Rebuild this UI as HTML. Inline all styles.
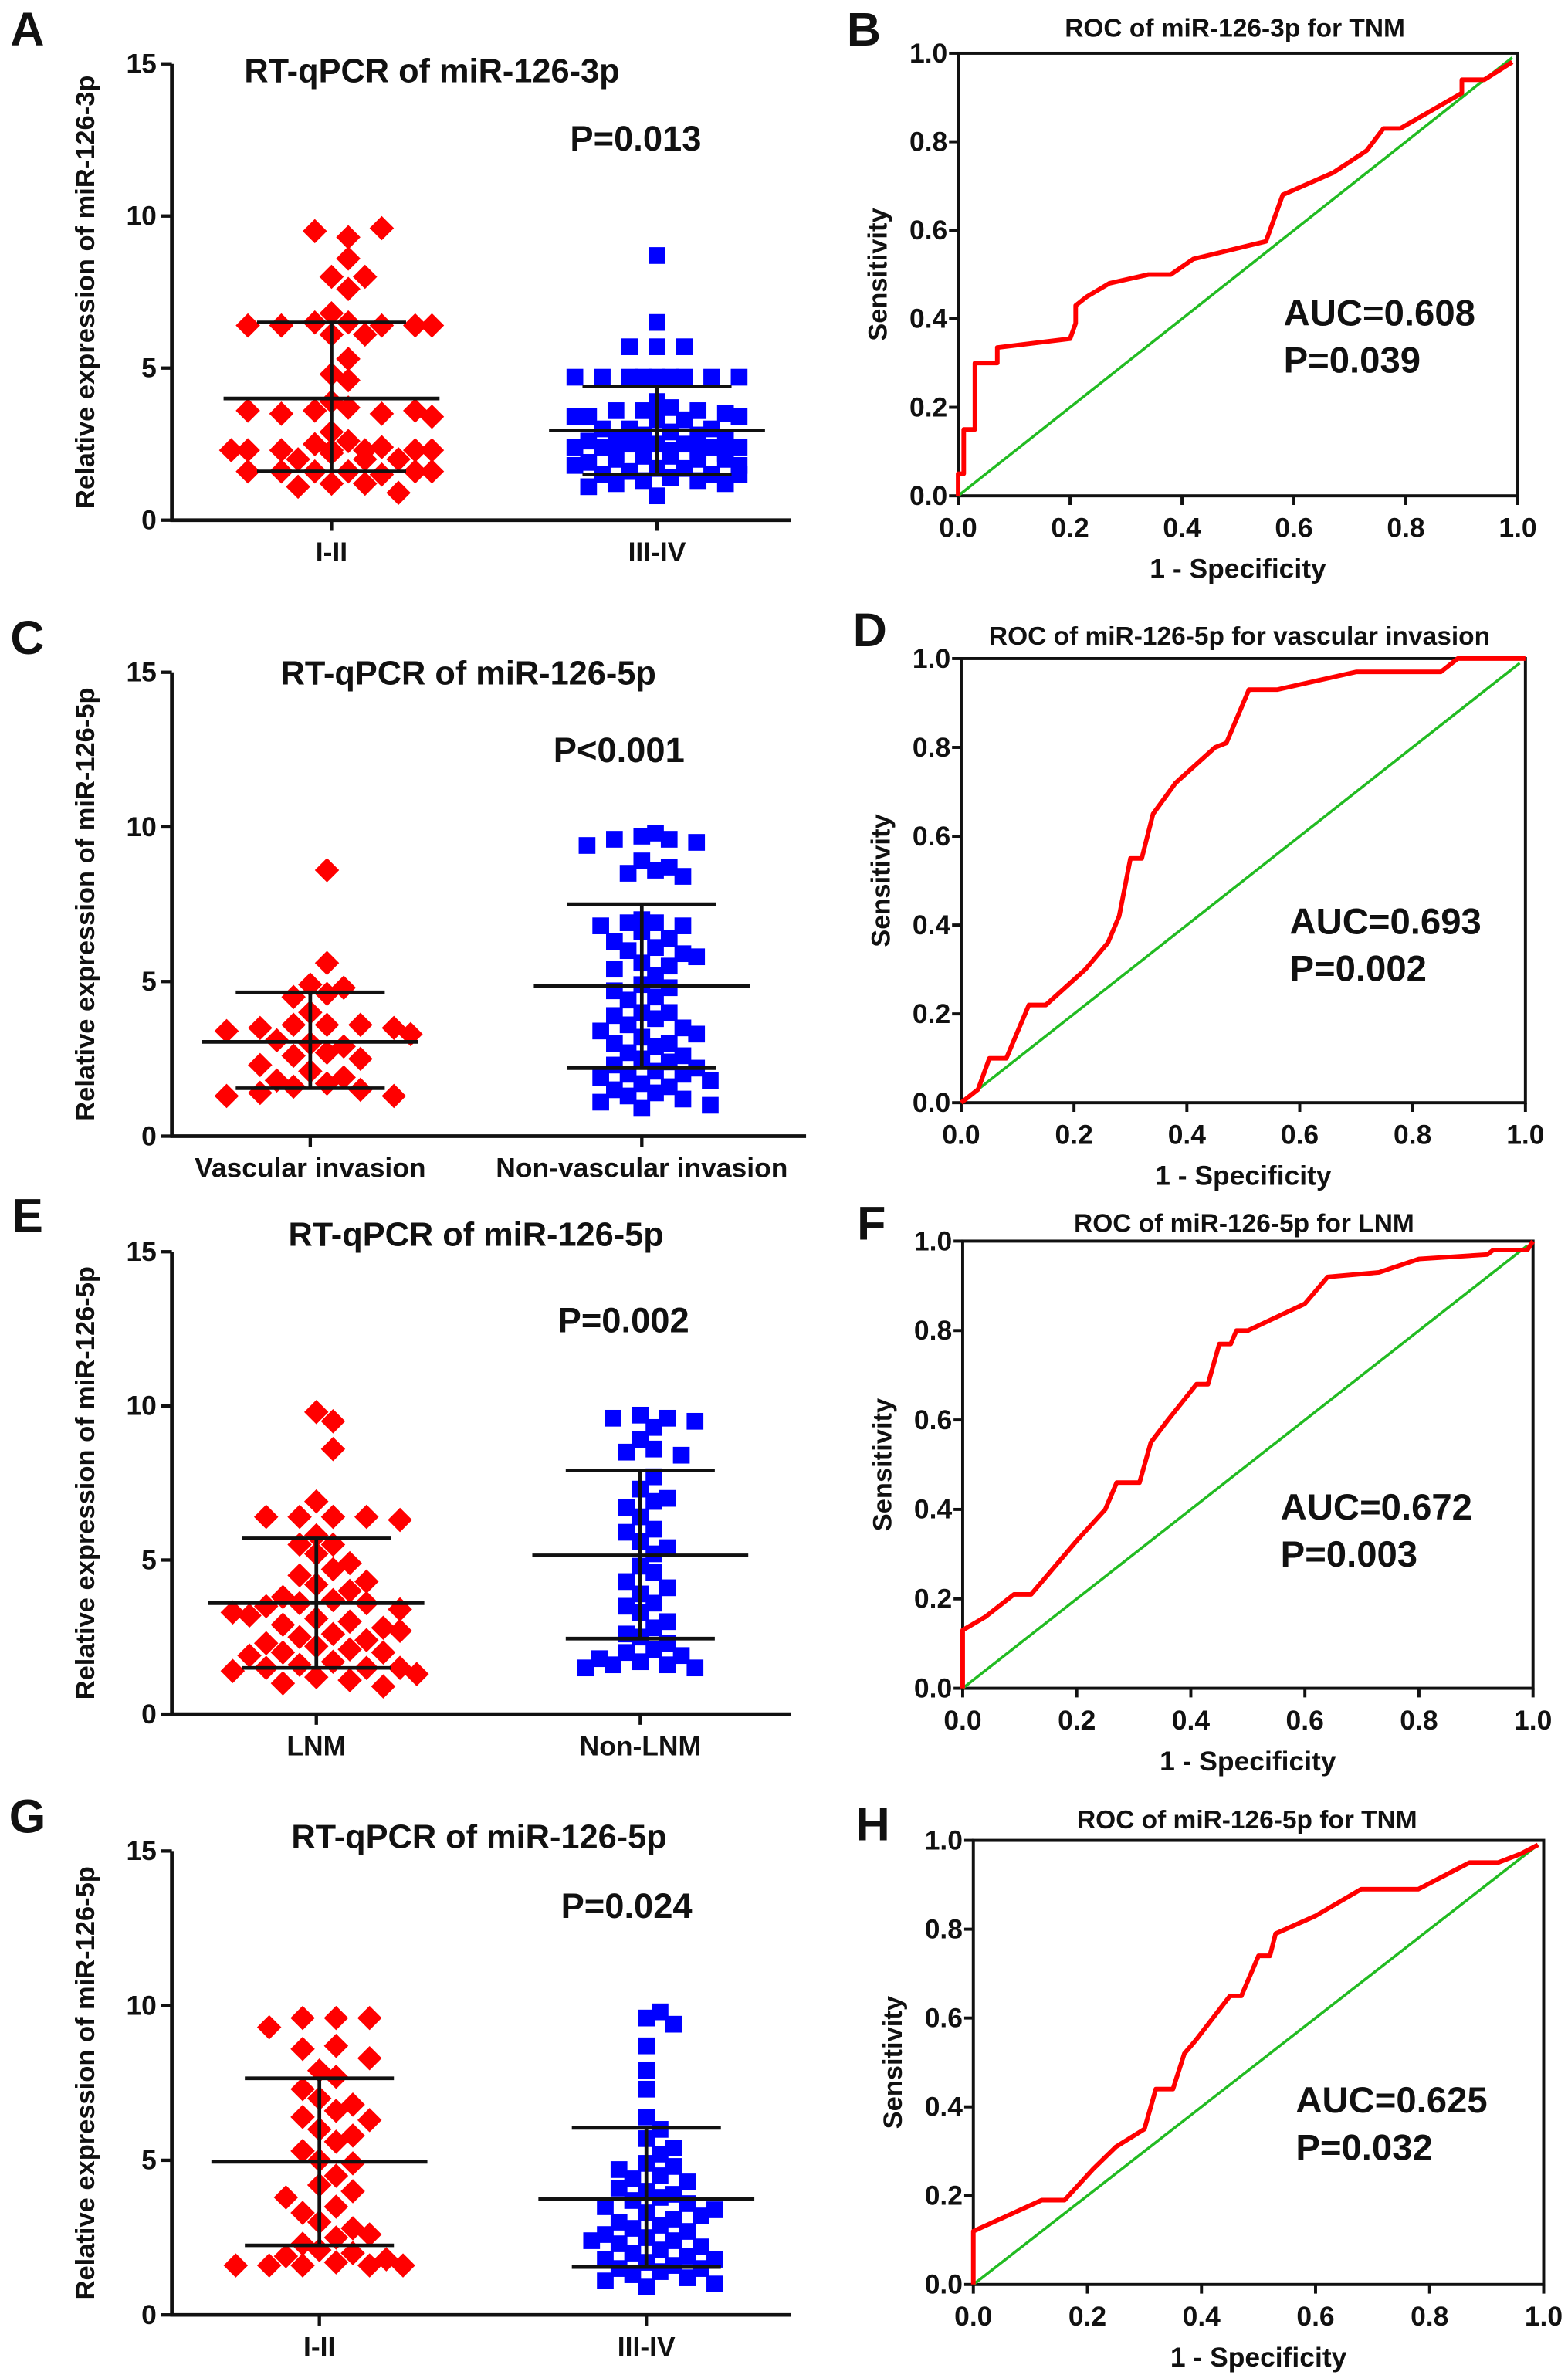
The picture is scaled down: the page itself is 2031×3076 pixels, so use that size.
<!DOCTYPE html>
<html><head><meta charset="utf-8"><style>
html,body{margin:0;padding:0;background:#fff;}
svg{display:block;font-family:"Liberation Sans",Arial,sans-serif;font-weight:bold;}
</style></head><body>
<svg id="fig" width="2031" height="3076" viewBox="0 0 1031 1561.5" preserveAspectRatio="none" xmlns="http://www.w3.org/2000/svg"></svg>
<script>
// ---- Scatter data ----
const aGroups = ["I-II","III-IV"];
const aRed = [9.3,9.5,9.6,8.6,8.0,8.0,7.6,6.8,6.5,6.5,6.4,6.4,6.4,6.4,6.4,6.1,6.1,5.3,4.8,4.6,3.9,3.7,3.6,3.5,3.5,3.6,3.6,3.4,2.9,2.6,2.5,2.4,2.3,2.3,2.3,2.3,2.3,2.3,2.3,2.2,2.0,2.0,2.0,1.6,1.6,1.5,1.6,1.6,1.6,1.6,1.2,1.2,1.1,0.9];
const aBlue = [8.7,6.5,5.7,5.7,5.7,4.7,4.7,4.7,4.7,4.7,4.7,4.7,4.7,4.7,3.9,3.7,3.6,3.6,3.6,3.5,3.4,3.4,3.4,3.4,3.3,3.3,3.0,3.0,3.0,2.9,2.8,2.8,2.7,2.7,2.6,2.5,2.5,2.5,2.4,2.4,2.4,2.4,2.3,2.3,2.3,2.2,2.2,2.1,2.1,2.0,2.0,2.0,1.9,1.8,1.8,1.7,1.7,1.6,1.5,1.5,1.5,1.4,1.3,1.3,1.2,1.2,1.1,0.8];
const aStats = [[4.0,6.5,1.6],[2.95,4.4,1.5]];

const cGroups = ["Vascular invasion","Non-vascular invasion"];
const cRed = [8.6,5.6,4.9,4.8,4.6,4.5,3.6,3.6,3.6,3.5,3.5,3.4,3.3,3.0,2.9,2.7,2.6,2.5,2.1,1.9,1.8,1.7,1.6,1.5,1.4,1.3,1.3,2.3,3.1,4.0];
const cBlue = [9.8,9.7,9.6,9.6,9.5,9.4,8.9,8.7,8.6,8.5,8.4,7.0,6.9,6.9,6.8,6.8,6.6,6.4,6.1,6.0,5.9,5.6,5.5,5.4,5.2,4.9,4.8,4.7,4.5,4.4,4.0,4.0,3.9,3.8,3.6,3.5,3.4,3.2,3.0,3.0,2.9,2.7,2.6,2.5,2.4,2.3,2.1,2.0,2.0,1.9,1.8,1.7,1.6,1.5,1.4,1.3,1.2,1.1,1.0,0.9,5.8,6.3,3.3,2.2];
const cStats = [[3.05,4.65,1.55],[4.85,7.5,2.2]];

const eGroups = ["LNM","Non-LNM"];
const eRed = [9.8,9.5,8.6,6.9,6.4,6.4,6.4,6.4,6.3,5.8,5.5,5.5,5.2,4.9,4.7,4.5,4.2,4.0,3.8,3.7,3.6,3.6,3.5,3.4,3.3,3.1,3.0,2.9,2.8,2.6,2.5,2.4,2.3,2.2,2.1,2.0,2.0,1.9,1.7,1.6,1.5,1.5,1.5,1.4,1.3,1.2,1.1,1.0,0.9,2.7,4.3,3.2];
const eBlue = [9.7,9.6,9.6,9.5,9.3,8.9,8.6,8.5,8.4,7.3,7.0,6.9,6.7,6.4,6.0,5.9,5.6,5.4,5.2,4.8,4.6,4.3,3.9,3.6,3.5,3.3,3.0,2.8,2.5,2.3,2.1,2.0,1.9,1.8,1.7,1.6,1.6,1.5,1.5,4.1,7.7,2.6];
const eStats = [[3.6,5.7,1.5],[5.15,7.9,2.45]];

const gGroups = ["I-II","III-IV"];
const gRed = [9.6,9.6,9.6,9.3,8.7,8.6,8.3,7.9,7.7,7.0,6.8,6.6,6.4,6.3,6.0,5.6,5.3,5.0,4.9,4.5,4.2,4.0,3.8,3.5,3.3,3.0,2.8,2.5,2.3,2.1,2.0,1.9,1.8,1.7,1.6,1.6,1.6,1.6,1.6,2.6,7.3,5.8];
const gBlue = [9.8,9.6,9.4,8.7,7.9,7.3,6.4,6.0,5.7,5.4,5.2,4.9,4.8,4.7,4.5,4.4,4.3,4.0,3.8,3.7,3.6,3.5,3.4,3.3,3.1,3.0,2.9,2.8,2.7,2.6,2.5,2.4,2.3,2.2,2.1,2.0,1.9,1.8,1.7,1.6,1.5,1.5,1.4,1.3,1.2,1.1,1.0,0.9,3.9,2.4,1.8,3.2,4.1];
const gStats = [[4.95,7.65,2.25],[3.75,6.05,1.55]];

const scatterTicks = [0,5,10,15];

// ---- ROC data ----
const bFpr = [0,0,0.01,0.01,0.03,0.03,0.07,0.07,0.2,0.21,0.21,0.23,0.27,0.34,0.38,0.42,0.55,0.58,0.67,0.73,0.76,0.79,0.9,0.9,0.94,0.99];
const bTpr = [0,0.05,0.05,0.15,0.15,0.3,0.3,0.335,0.355,0.39,0.43,0.45,0.48,0.5,0.5,0.535,0.575,0.68,0.73,0.78,0.83,0.83,0.91,0.94,0.94,0.98];
const dFpr = [0,0.03,0.05,0.08,0.12,0.15,0.22,0.26,0.28,0.3,0.32,0.34,0.38,0.45,0.47,0.5,0.51,0.56,0.7,0.85,0.88,1];
const dTpr = [0,0.03,0.1,0.1,0.22,0.22,0.3,0.36,0.42,0.55,0.55,0.65,0.72,0.8,0.81,0.9,0.93,0.93,0.97,0.97,1,1];
const fFpr = [0,0,0.04,0.09,0.12,0.2,0.25,0.27,0.31,0.33,0.36,0.41,0.43,0.45,0.47,0.48,0.5,0.6,0.64,0.73,0.8,0.92,0.93,0.99,1];
const fTpr = [0,0.13,0.16,0.21,0.21,0.33,0.4,0.46,0.46,0.55,0.6,0.68,0.68,0.77,0.77,0.8,0.8,0.86,0.92,0.93,0.96,0.97,0.98,0.98,1];
const hFpr = [0,0,0.12,0.16,0.21,0.25,0.3,0.32,0.35,0.37,0.39,0.45,0.47,0.5,0.52,0.53,0.6,0.68,0.78,0.84,0.87,0.92,0.96,0.99];
const hTpr = [0,0.12,0.19,0.19,0.26,0.31,0.35,0.44,0.44,0.52,0.55,0.65,0.65,0.74,0.74,0.79,0.83,0.89,0.89,0.93,0.95,0.95,0.97,0.99];
const rocTicks = [0,0.2,0.4,0.6,0.8,1.0];

const NS = "http://www.w3.org/2000/svg";
const svg = document.getElementById('fig');
function mk(tag, attrs, parent, text){
  const e = document.createElementNS(NS, tag);
  for (const k in attrs) e.setAttribute(k, attrs[k]);
  if (text !== undefined) e.textContent = text;
  (parent || svg).appendChild(e);
  return e;
}
function txt(x,y,s,size,anchor,parent,name,rot){
  const t = mk('text',{x:x,y:y,'font-size':size,'text-anchor':anchor||'middle',fill:'#111'},parent,s);
  
  
  if (rot) t.setAttribute('transform','rotate(-90 '+x+' '+y+')');
  return t;
}

// slot patterns (multiples of spacing d)
const evenSlots = [0,1,-1,2,-2,3,-3,0.5,-0.5,1.5,-1.5,2.5,-2.5];
const oddSlots = [0.5,-0.5,1.5,-1.5,2.5,-2.5,3,-3,0,1,-1,2,-2];

function scatter(p){
  const g = mk('g',{});
  
  
  const ys = v => p.y0 - (v/15)*(p.y0-p.y15);
  txt(18, p.letterY, p.letter, 31, 'middle', g, 'panel-label');
  txt(p.titleX, p.titleY, p.title, 22, 'middle', g, 'chart-title');
  txt(p.pX, p.pY, p.pText, 23, 'middle', g, 'p-value');
  const ya = mk('line',{x1:p.ax,y1:p.y15,x2:p.ax,y2:p.y0+1,stroke:'#111','stroke-width':2.4},g);
  
  
  const xa = mk('line',{x1:p.ax-1,y1:p.y0,x2:p.axEnd,y2:p.y0,stroke:'#111','stroke-width':2.4},g);
  
  
  scatterTicks.forEach(t=>{
    mk('line',{x1:p.ax-7,y1:ys(t),x2:p.ax,y2:ys(t),stroke:'#111','stroke-width':2.2},g);
    txt(p.ax-10, ys(t)+6, String(t), 18, 'end', g, 'y-tick-label');
  });
  txt(62, (p.y0+p.y15)/2, p.ylabel, 17.5, 'middle', g, 'y-axis-title', true);
  p.groups.forEach((name,i)=>{
    const cx = p.cats[i];
    mk('line',{x1:cx,y1:p.y0,x2:cx,y2:p.y0+7,stroke:'#111','stroke-width':2.2},g);
    txt(cx, p.y0+27, name, 18, 'middle', g, 'x-category-label');
  });
  [p.red, p.blue].forEach((vals,gi)=>{
    const cx = p.cats[gi];
    const bins = {};
    const d = gi===0 ? 22 : 18;
    const bs = gi===0 ? 0.5 : 0.4;
    vals.forEach(v=>{
      const b = Math.round(v/bs);
      const k = bins[b] = (bins[b]||0)+1;
      const slots = (b%2===0) ? evenSlots : oddSlots;
      const start = (b*3) % 3;
      const s = slots[(k-1+start) % slots.length];
      const x = cx + s*d, y = ys(v);
      let m;
      if (gi===0){
        m = mk('polygon',{points:`${x},${y-8} ${x+8},${y} ${x},${y+8} ${x-8},${y}`,fill:'#ff0000'},g);
        
      } else {
        m = mk('rect',{x:x-5.5,y:y-5.5,width:11,height:11,fill:'#0000ff'},g);
        
      }
      
    });
  });
  p.stats.forEach((s,i)=>{
    const cx = p.cats[i];
    const e1 = mk('line',{x1:cx-71,y1:ys(s[0]),x2:cx+71,y2:ys(s[0]),stroke:'#111','stroke-width':2.4},g);
    
    
    mk('line',{x1:cx,y1:ys(s[1]),x2:cx,y2:ys(s[2]),stroke:'#111','stroke-width':2.4},g);
    mk('line',{x1:cx-49,y1:ys(s[1]),x2:cx+49,y2:ys(s[1]),stroke:'#111','stroke-width':2.4},g);
    mk('line',{x1:cx-49,y1:ys(s[2]),x2:cx+49,y2:ys(s[2]),stroke:'#111','stroke-width':2.4},g);
  });
}

function roc(p){
  const g = mk('g',{});
  
  
  const xs = v => p.x0 + v*(p.x1-p.x0);
  const ys = v => p.y0 - v*(p.y0-p.y1);
  txt(p.letterX, p.letterY, p.letter, 31, 'middle', g, 'panel-label');
  txt(p.titleX, p.titleY, p.title, 17, 'middle', g, 'chart-title');
  const fr = mk('rect',{x:p.x0,y:p.y1,width:p.x1-p.x0,height:p.y0-p.y1,fill:'none',stroke:'#111','stroke-width':2},g);
  
  
  rocTicks.forEach(t=>{
    mk('line',{x1:xs(t),y1:p.y0,x2:xs(t),y2:p.y0+6,stroke:'#111','stroke-width':2},g);
    txt(xs(t), p.y0+27, t.toFixed(1), 18, 'middle', g, 'x-tick-label');
    mk('line',{x1:p.x0-6,y1:ys(t),x2:p.x0,y2:ys(t),stroke:'#111','stroke-width':2},g);
    txt(p.x0-7, ys(t)+6, t.toFixed(1), 18, 'end', g, 'y-tick-label');
  });
  txt((p.x0+p.x1)/2, p.y0+54, '1 - Specificity', 18, 'middle', g, 'x-axis-title');
  txt(p.x0-47, (p.y0+p.y1)/2, 'Sensitivity', 17.5, 'middle', g, 'y-axis-title', true);
  const dg = mk('line',{x1:xs(0),y1:ys(0),x2:xs(0.99),y2:ys(0.99),stroke:'#22bb22','stroke-width':1.8},g);
  
  
  const pts = p.fpr.map((f,i)=>xs(f)+','+ys(p.tpr[i])).join(' ');
  const pl = mk('polyline',{points:pts,fill:'none',stroke:'#ff0000','stroke-width':3,'stroke-linejoin':'round'},g);
  
  
  txt(p.aucX, p.aucY, p.auc, 24, 'start', g, 'auc-label');
  txt(p.aucX, p.aucY+31, p.p, 24, 'start', g, 'p-value');
}

scatter({name:'panel-a',letter:'A',letterY:30,title:'RT-qPCR of miR-126-3p',titleX:284,titleY:54,pText:'P=0.013',pX:418,pY:99,
  ax:113,axEnd:520,y0:342,y15:42,cats:[218,432],groups:aGroups,red:aRed,blue:aBlue,stats:aStats,ylabel:'Relative expression of miR-126-3p'});
scatter({name:'panel-c',letter:'C',letterY:430,title:'RT-qPCR of miR-126-5p',titleX:308,titleY:450,pText:'P<0.001',pX:407,pY:501,
  ax:113,axEnd:530,y0:747,y15:442,cats:[204,422],groups:cGroups,red:cRed,blue:cBlue,stats:cStats,ylabel:'Relative expression of miR-126-5p'});
scatter({name:'panel-e',letter:'E',letterY:810,title:'RT-qPCR of miR-126-5p',titleX:313,titleY:819,pText:'P=0.002',pX:410,pY:876,
  ax:113,axEnd:520,y0:1127,y15:823,cats:[208,421],groups:eGroups,red:eRed,blue:eBlue,stats:eStats,ylabel:'Relative expression of miR-126-5p'});
scatter({name:'panel-g',letter:'G',letterY:1205,title:'RT-qPCR of miR-126-5p',titleX:315,titleY:1215,pText:'P=0.024',pX:412,pY:1261,
  ax:113,axEnd:520,y0:1522,y15:1217,cats:[210,425],groups:gGroups,red:gRed,blue:gBlue,stats:gStats,ylabel:'Relative expression of miR-126-5p'});

roc({name:'panel-b',letter:'B',letterX:568,letterY:30,title:'ROC of miR-126-3p for TNM',titleX:812,titleY:24,
  x0:630,x1:998,y0:326,y1:35,fpr:bFpr,tpr:bTpr,auc:'AUC=0.608',p:'P=0.039',aucX:844,aucY:214});
roc({name:'panel-d',letter:'D',letterX:572,letterY:425,title:'ROC of miR-126-5p for vascular invasion',titleX:815,titleY:424,
  x0:632,x1:1003,y0:725,y1:433,fpr:dFpr,tpr:dTpr,auc:'AUC=0.693',p:'P=0.002',aucX:848,aucY:614});
roc({name:'panel-f',letter:'F',letterX:573,letterY:815,title:'ROC of miR-126-5p for LNM',titleX:818,titleY:810,
  x0:633,x1:1008,y0:1110,y1:816,fpr:fFpr,tpr:fTpr,auc:'AUC=0.672',p:'P=0.003',aucX:842,aucY:999});
roc({name:'panel-h',letter:'H',letterX:574,letterY:1210,title:'ROC of miR-126-5p for TNM',titleX:820,titleY:1202,
  x0:640,x1:1015,y0:1502,y1:1210,fpr:hFpr,tpr:hTpr,auc:'AUC=0.625',p:'P=0.032',aucX:852,aucY:1389});
</script>
</body></html>
